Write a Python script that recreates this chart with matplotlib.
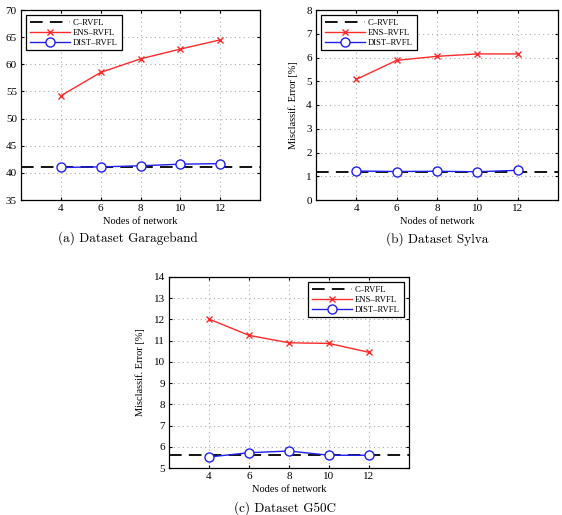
import matplotlib
matplotlib.use("Agg")
import matplotlib.pyplot as plt

nodes = [4, 6, 8, 10, 12]

garage_ens = [54.2, 58.5, 61.0, 62.8, 64.5]
garage_dist = [41.0, 41.1, 41.3, 41.6, 41.7]
garage_c = 41.05

sylva_ens = [5.08, 5.88, 6.05, 6.15, 6.15]
sylva_dist = [1.22, 1.20, 1.21, 1.19, 1.25]
sylva_c = 1.19

g50c_ens = [12.02, 11.25, 10.90, 10.87, 10.45]
g50c_dist = [5.52, 5.72, 5.80, 5.60, 5.60]
g50c_c = 5.62

captions = ["(a) Dataset Garageband", "(b) Dataset Sylva", "(c) Dataset G50C"]
ylabel = "Misclassif. Error [%]"
xlabel = "Nodes of network"
legend_labels = ["C\u2013RVFL", "ENS\u2013RVFL", "DIST\u2013RVFL"]

plt.rcParams['font.family'] = ['Liberation Serif', 'DejaVu Serif']

fig = plt.figure(figsize=(5.62, 5.15), dpi=100)

def panel(rect, ens, dist, c, ylim, yticks, loc, caption, cap_xy, ylab_x):
    ax = fig.add_axes(rect)
    ax.axhline(c, color='black', lw=1.3, ls=(0, (7, 4)), label=legend_labels[0])
    ax.plot(nodes, ens, color='#ff2a2a', lw=1.0, marker='x', ms=4.5, mew=1.0,
            label=legend_labels[1])
    ax.plot(nodes, dist, color='#1f1fee', lw=1.0, marker='o', ms=6.5, mew=1.0,
            mfc='white', label=legend_labels[2])
    ax.set_xlim(2, 14)
    ax.set_ylim(*ylim)
    ax.set_xticks(nodes)
    ax.set_yticks(yticks)
    ax.grid(True, ls=(0, (1, 3)), color='#aaaaaa', lw=0.8)
    ax.tick_params(direction='in', length=2, labelsize=8, pad=3,
                   top=True, right=True)
    for s in ax.spines.values():
        s.set_linewidth(0.9)
    ax.set_xlabel(xlabel, fontsize=7.5, labelpad=3)
    ax.set_ylabel(ylabel, fontsize=7.5)
    ax.yaxis.set_label_coords(ylab_x, 0.5)
    leg = ax.legend(loc=loc, fontsize=6.2, fancybox=False, framealpha=1,
                    edgecolor='black', handlelength=4.6, numpoints=1,
                    borderpad=0.45, labelspacing=0.2, borderaxespad=0.6,
                    handletextpad=0.4)
    leg.get_frame().set_linewidth(0.9)
    fig.text(cap_xy[0], cap_xy[1], caption, ha='center', va='center',
             fontsize=9.5, family=['cmr10', 'DejaVu Serif'])
    return ax

W, H = 562, 515
def rect(l, t, r, b):
    return [l / W, 1 - b / H, (r - l) / W, (b - t) / H]

panel(rect(21, 10, 260, 200), garage_ens, garage_dist, garage_c, (35, 70),
      range(35, 71, 5), 'upper left', captions[0], (128 / W, 1 - 238 / H), -0.095)
panel(rect(316, 10, 558, 200), sylva_ens, sylva_dist, sylva_c, (0, 8),
      range(0, 9), 'upper left', captions[1], (437 / W, 1 - 239 / H), -0.075)
panel(rect(169, 277, 409, 468), g50c_ens, g50c_dist, g50c_c, (5, 14),
      range(5, 15), 'upper right', captions[2], (285 / W, 1 - 508 / H), -0.1)

fig.savefig("out.png", dpi=100)
